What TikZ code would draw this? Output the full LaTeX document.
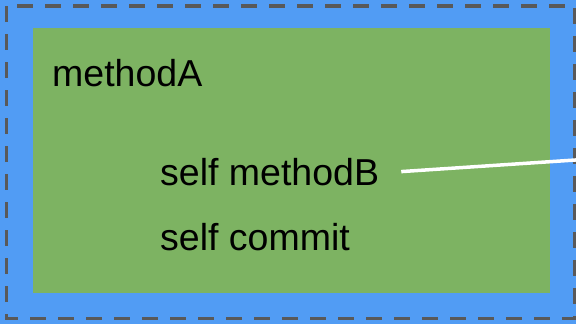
\documentclass[tikz,border=0pt]{standalone}
\usepackage{fontspec}
\setmainfont{Liberation Sans}
\usetikzlibrary{positioning}

\definecolor{frameblue}{HTML}{519CF4}
\definecolor{bodygreen}{HTML}{7DB362}
\definecolor{edgegray}{HTML}{595959}

\tikzset{
	code/.style = {anchor = base west, inner sep = 0pt, font = \fontsize{37.5}{42}\selectfont}
}

\begin{document}
\begin{tikzpicture}[x = 1pt, y = -1pt]
	\useasboundingbox (0,0) rectangle (576,324);
	\fill[frameblue] (0,0) rectangle (576,324);
	\draw[edgegray, line width = 3.2pt, dash pattern = on 16pt off 12pt] (6.5,6) rectangle (575,318.5);
	\fill[bodygreen] (33,28) rectangle (550,293);
	
	\node[code] (mA) at (52,86) {methodA};
	\node[code] (mB) at (160,185) {self methodB};
	\node[code] (mC) at (160,250) {self commit};
	
	%\coordinate (exit) at (576,160);
	\coordinate (exit) at (580,159.7);
	\begin{scope}
		\clip (0,0) rectangle (576,324);
		\draw[white, line width = 3.5pt] ([xshift = 22pt]mB.east) -- (exit);
	\end{scope}
\end{tikzpicture}
\end{document}
